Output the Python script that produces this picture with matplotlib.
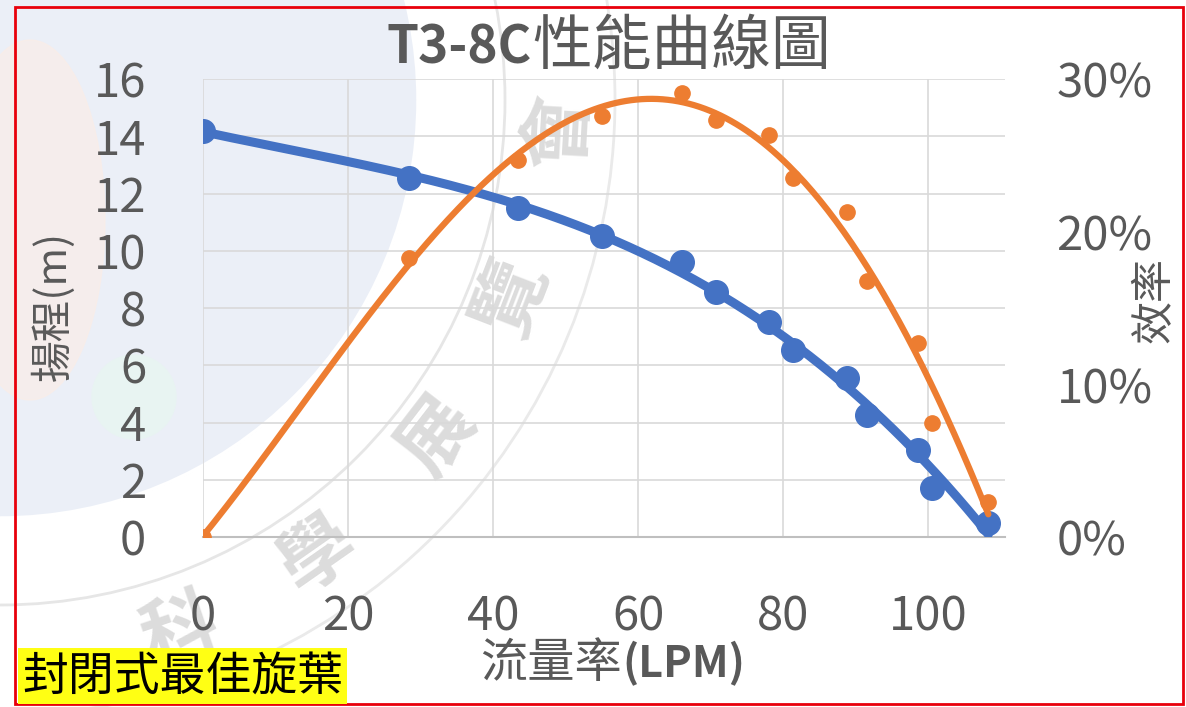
import numpy as np
import matplotlib.pyplot as plt
from matplotlib.patches import Circle, Ellipse, Rectangle
from matplotlib.ticker import FuncFormatter

plt.rcParams['font.family'] = ['Noto Sans CJK TC', 'DejaVu Sans']

# datos
flow = [0, 28.4, 43.4, 55.0, 66.1, 70.8, 78.0, 81.4, 88.8, 91.6, 98.6, 100.6, 108.3]
head = [14.2, 12.55, 11.5, 10.5, 9.6, 8.57, 7.52, 6.54, 5.56, 4.27, 3.04, 1.71, 0.49]
eff = [0, 18.3, 24.7, 27.6, 29.1, 27.3, 26.3, 23.5, 21.3, 16.8, 12.7, 7.5, 2.3]  # %

x_ticks = [0, 20, 40, 60, 80, 100]
head_ticks = [0, 2, 4, 6, 8, 10, 12, 14, 16]
eff_ticks = [0, 10, 20, 30]

title_code = 'T3-8C'
title_name = '性能曲線圖'
xlabel_name = '流量率'
xlabel_unit = '(LPM)'
left_label = '揚程(m)'
right_label = '效率'
note = '封閉式最佳旋葉'
seal_chars = ['科', '學', '展', '覽', '會']

BLUE = '#4472C4'
ORANGE = '#ED7D31'
GREY = '#595959'

W, H = 1186, 707
fig = plt.figure(figsize=(W / 100, H / 100), dpi=100)

# fondo con la marca de agua (coordenadas en píxeles)
bg = fig.add_axes([0, 0, 1, 1])
bg.set_xlim(0, W)
bg.set_ylim(H, 0)
bg.axis('off')
bg.add_patch(Circle((0, 100), 418, color='#EBEFF7', zorder=1))
bg.add_patch(Ellipse((30, 220), 150, 360, color='#FCEDE6', alpha=0.6, zorder=1.5))
bg.add_patch(Circle((0, 100), 418, fill=False, ec='white', lw=2.5, zorder=2))
bg.add_patch(Circle((134, 397), 42, color='#E8F4F2', zorder=2))
bg.add_patch(Circle((0, 100), 505, fill=False, ec='#E6E6E6', lw=2, zorder=2))
bg.add_patch(Circle((0, 100), 615, fill=False, ec='#EAEAEA', lw=2, zorder=2))
seal_pos = [(180, 631), (318, 555), (437, 437), (513, 298), (559, 131)]
for ch, (px, py) in zip(seal_chars, seal_pos):
    ang = np.degrees(np.arctan2(-(py - 100), px))
    bg.text(px, py, ch, fontsize=54, fontweight='bold', color='#D6D6D6',
            alpha=0.85, rotation=ang + 90, ha='center', va='center', zorder=3)

# marco rojo
fig.patches.append(Rectangle((15 / W, 3 / H), 1168 / W, 697 / H, transform=fig.transFigure,
                             fill=False, ec='#E8000B', lw=2, zorder=10))

ax = fig.add_axes([203 / W, 170 / H, 802 / W, 458 / H])
ax.patch.set_alpha(0)
ax2 = ax.twinx()

ax.set_xlim(0, 110.6)
ax.set_ylim(0, 16)
ax2.set_ylim(0, 30)
ax.set_xticks(x_ticks)
ax.set_yticks(head_ticks)
ax2.set_yticks(eff_ticks)
ax2.yaxis.set_major_formatter(FuncFormatter(lambda v, p: f'{v:.0f}%'))

ax.grid(True, color='#D9D9D9', lw=1.2)
ax.set_axisbelow(True)
for a in (ax, ax2):
    for s in a.spines.values():
        s.set_visible(False)
ax.spines['bottom'].set_visible(True)
ax.spines['bottom'].set_color('#BFBFBF')
ax.spines['bottom'].set_linewidth(1.5)

ax.tick_params(axis='x', length=0, pad=40, labelsize=34, labelcolor=GREY)
ax.tick_params(axis='y', length=0, pad=41, labelsize=34, labelcolor=GREY)
ax2.tick_params(axis='y', length=0, pad=37, labelsize=34, labelcolor=GREY)

# líneas de tendencia polinómicas, como en Excel
xs = np.linspace(0, max(flow), 300)
head_fit = np.polyval(np.polyfit(flow, head, 3), xs)
eff_fit = np.polyval(np.polyfit(flow, eff, 4), xs)

ax.plot(xs, head_fit, color=BLUE, lw=6.5, solid_capstyle='round', zorder=3)
ax.plot(flow, head, 'o', color=BLUE, ms=17, zorder=4)
ax2.plot(xs, eff_fit, color=ORANGE, lw=4.5, solid_capstyle='round', zorder=3)
ax2.plot(flow, eff, 'o', color=ORANGE, ms=11, zorder=4)

# textos
fig.text(532 / W, 1 - 64 / H, title_code, fontsize=37, fontweight='bold', color=GREY,
         ha='right', va='baseline')
fig.text(532 / W, 1 - 64 / H, title_name, fontsize=43, color=GREY, ha='left', va='baseline')
fig.text(622 / W, 1 - 677 / H, xlabel_name, fontsize=34, color=GREY, ha='right', va='baseline')
fig.text(622 / W, 1 - 677 / H, xlabel_unit, fontsize=31, fontweight='bold', color=GREY,
         ha='left', va='baseline')
fig.text(53 / W, 1 - 306 / H, left_label, fontsize=30, color=GREY, rotation=90,
         ha='center', va='center')
fig.text(1155 / W, 1 - 300 / H, right_label, fontsize=31, color=GREY, rotation=90,
         ha='center', va='center')
fig.text(22 / W, 1 - 676 / H, note, fontsize=33, color='black', ha='left', va='center',
         bbox=dict(boxstyle='square,pad=0.08', fc='#FFFF14', ec='none'), zorder=11)

fig.savefig('out.png', dpi=100)
